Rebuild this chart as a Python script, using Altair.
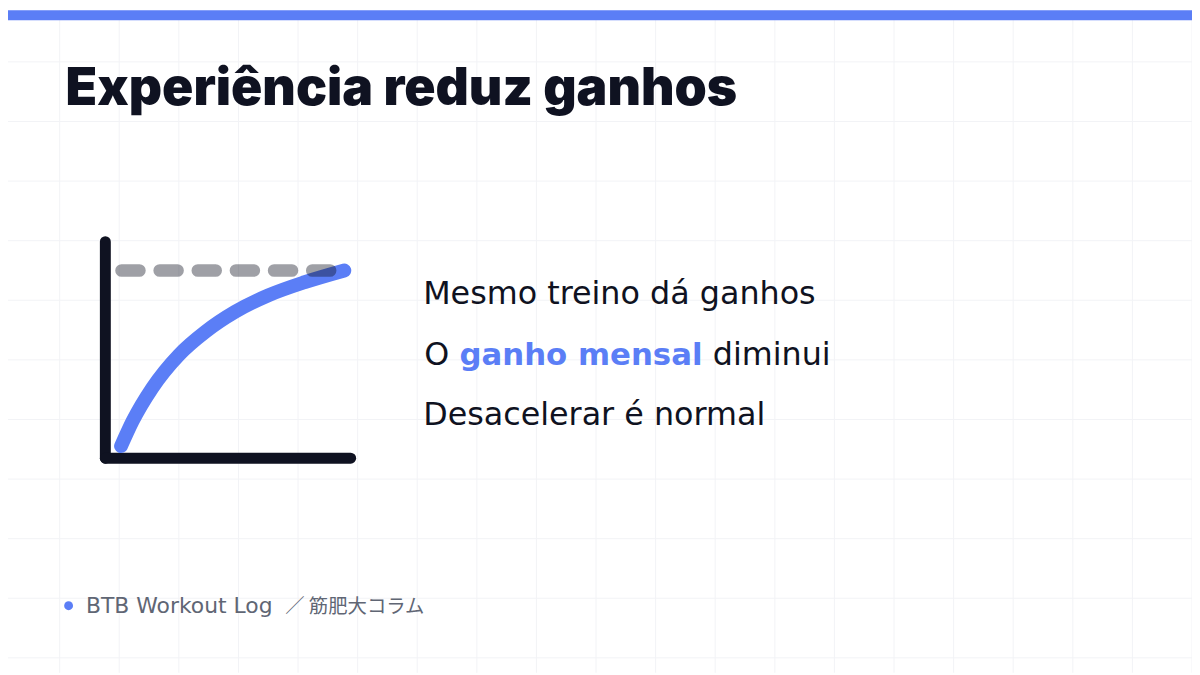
import altair as alt
import pandas as pd

# ---- data ----
curve_x = [0.64, 1.11, 1.91, 3.00, 4.08, 5.29, 6.64, 8.13, 9.74]
curve_y = [0.56, 1.71, 3.24, 4.77, 5.84, 6.76, 7.52, 8.13, 8.67]
plateau_y = 8.67
plateau_x = [0.66, 9.17]
axis_len = 10

title = "Experiência reduz ganhos"
line1 = "Mesmo treino dá ganhos"
line2_a = "O"
line2_b = "ganho mensal"
line2_c = "diminui"
line3 = "Desacelerar é normal"
footer_a = "BTB Workout Log"
footer_b = "／ 筋肥大コラム"

BLUE = "#5b7ef6"
DARK = "#0f1221"
GRID = "#f2f3f6"
W, H = 1192, 667
BODY = "DejaVu Sans, Noto Sans CJK JP"

# ---- background grid (decorative, pixel space) ----
vgrid = pd.DataFrame({"gx": [x - 8 for x in range(60, 1201, 60)]})
hgrid = pd.DataFrame({"gy": [y - 8 for y in range(60, 676, 60)]})
grid_v = alt.Chart(vgrid).mark_rule(color=GRID, strokeWidth=1).encode(
    x=alt.X("gx:Q", scale=None, axis=None), y=alt.value(0), y2=alt.value(H))
grid_h = alt.Chart(hgrid).mark_rule(color=GRID, strokeWidth=1).encode(
    y=alt.Y("gy:Q", scale=None, axis=None), x=alt.value(0), x2=alt.value(W))

topbar = alt.Chart(pd.DataFrame({"a": [0]})).mark_rect(color=BLUE).encode(
    x=alt.value(0), x2=alt.value(W), y=alt.value(0), y2=alt.value(10))

# ---- diagram ----
xs = alt.Scale(domain=[0, 10], range=[98, 345], nice=False, zero=False)
ys = alt.Scale(domain=[0, 10], range=[451, 233], nice=False, zero=False)

axes_df = pd.DataFrame({
    "x": [0, 0], "y": [0, 0],
    "x2": [0, axis_len], "y2": [axis_len, 0],
})
axes = alt.Chart(axes_df).mark_rule(color=DARK, strokeWidth=11, strokeCap="round").encode(
    x=alt.X("x:Q", scale=xs, axis=None), y=alt.Y("y:Q", scale=ys, axis=None),
    x2="x2:Q", y2="y2:Q")

curve_df = pd.DataFrame({"x": curve_x, "y": curve_y})
curve = alt.Chart(curve_df).mark_line(
    color=BLUE, strokeWidth=14, strokeCap="round", strokeJoin="round",
    interpolate="monotone").encode(
    x=alt.X("x:Q", scale=xs, axis=None), y=alt.Y("y:Q", scale=ys, axis=None))

plat_df = pd.DataFrame({"x": plateau_x, "y": [plateau_y, plateau_y]})
plateau = alt.Chart(plat_df).mark_line(
    color=DARK, opacity=0.4, strokeWidth=12.7, strokeCap="round",
    strokeDash=[18, 20.4]).encode(
    x=alt.X("x:Q", scale=xs, axis=None), y=alt.Y("y:Q", scale=ys, axis=None))

# ---- texts ----
def txt(s, x, y, size, color=DARK, weight=400, font=BODY):
    return alt.Chart(pd.DataFrame({"t": [s]})).mark_text(
        align="left", baseline="alphabetic", fontSize=size, fontWeight=weight,
        color=color, font=font).encode(
        text="t:N", x=alt.value(x), y=alt.value(y))

t_title = txt(title, 58, 95, 52, weight=900, font="Inter")
t1 = txt(line1, 418, 296, 32)
t2a = txt(line2_a, 419, 357, 32)
t2b = txt(line2_b, 454.5, 357, 31, color=BLUE, weight=700)
t2c = txt(line2_c, 709.5, 357, 32)
t3 = txt(line3, 418, 418, 32)

dot = alt.Chart(pd.DataFrame({"a": [0]})).mark_point(
    filled=True, color=BLUE, size=80, opacity=1, shape="circle").encode(
    x=alt.value(61), y=alt.value(599.5))
t_footer_a = txt(footer_a, 78.5, 607, 22, color="#606674")
t_footer_b = txt(footer_b, 279, 607, 19.5, color="#606674", font="Noto Sans CJK JP")

chart = alt.layer(
    grid_v, grid_h, topbar, axes, curve, plateau,
    t_title, t1, t2a, t2b, t2c, t3, dot, t_footer_a, t_footer_b
).resolve_scale(x="independent", y="independent").properties(
    width=W, height=H, padding=0, background="white",
    autosize=alt.AutoSizeParams(type="none"),
).configure_view(stroke=None)

chart.save("out.html", embed_options={"renderer": "svg", "actions": False})
